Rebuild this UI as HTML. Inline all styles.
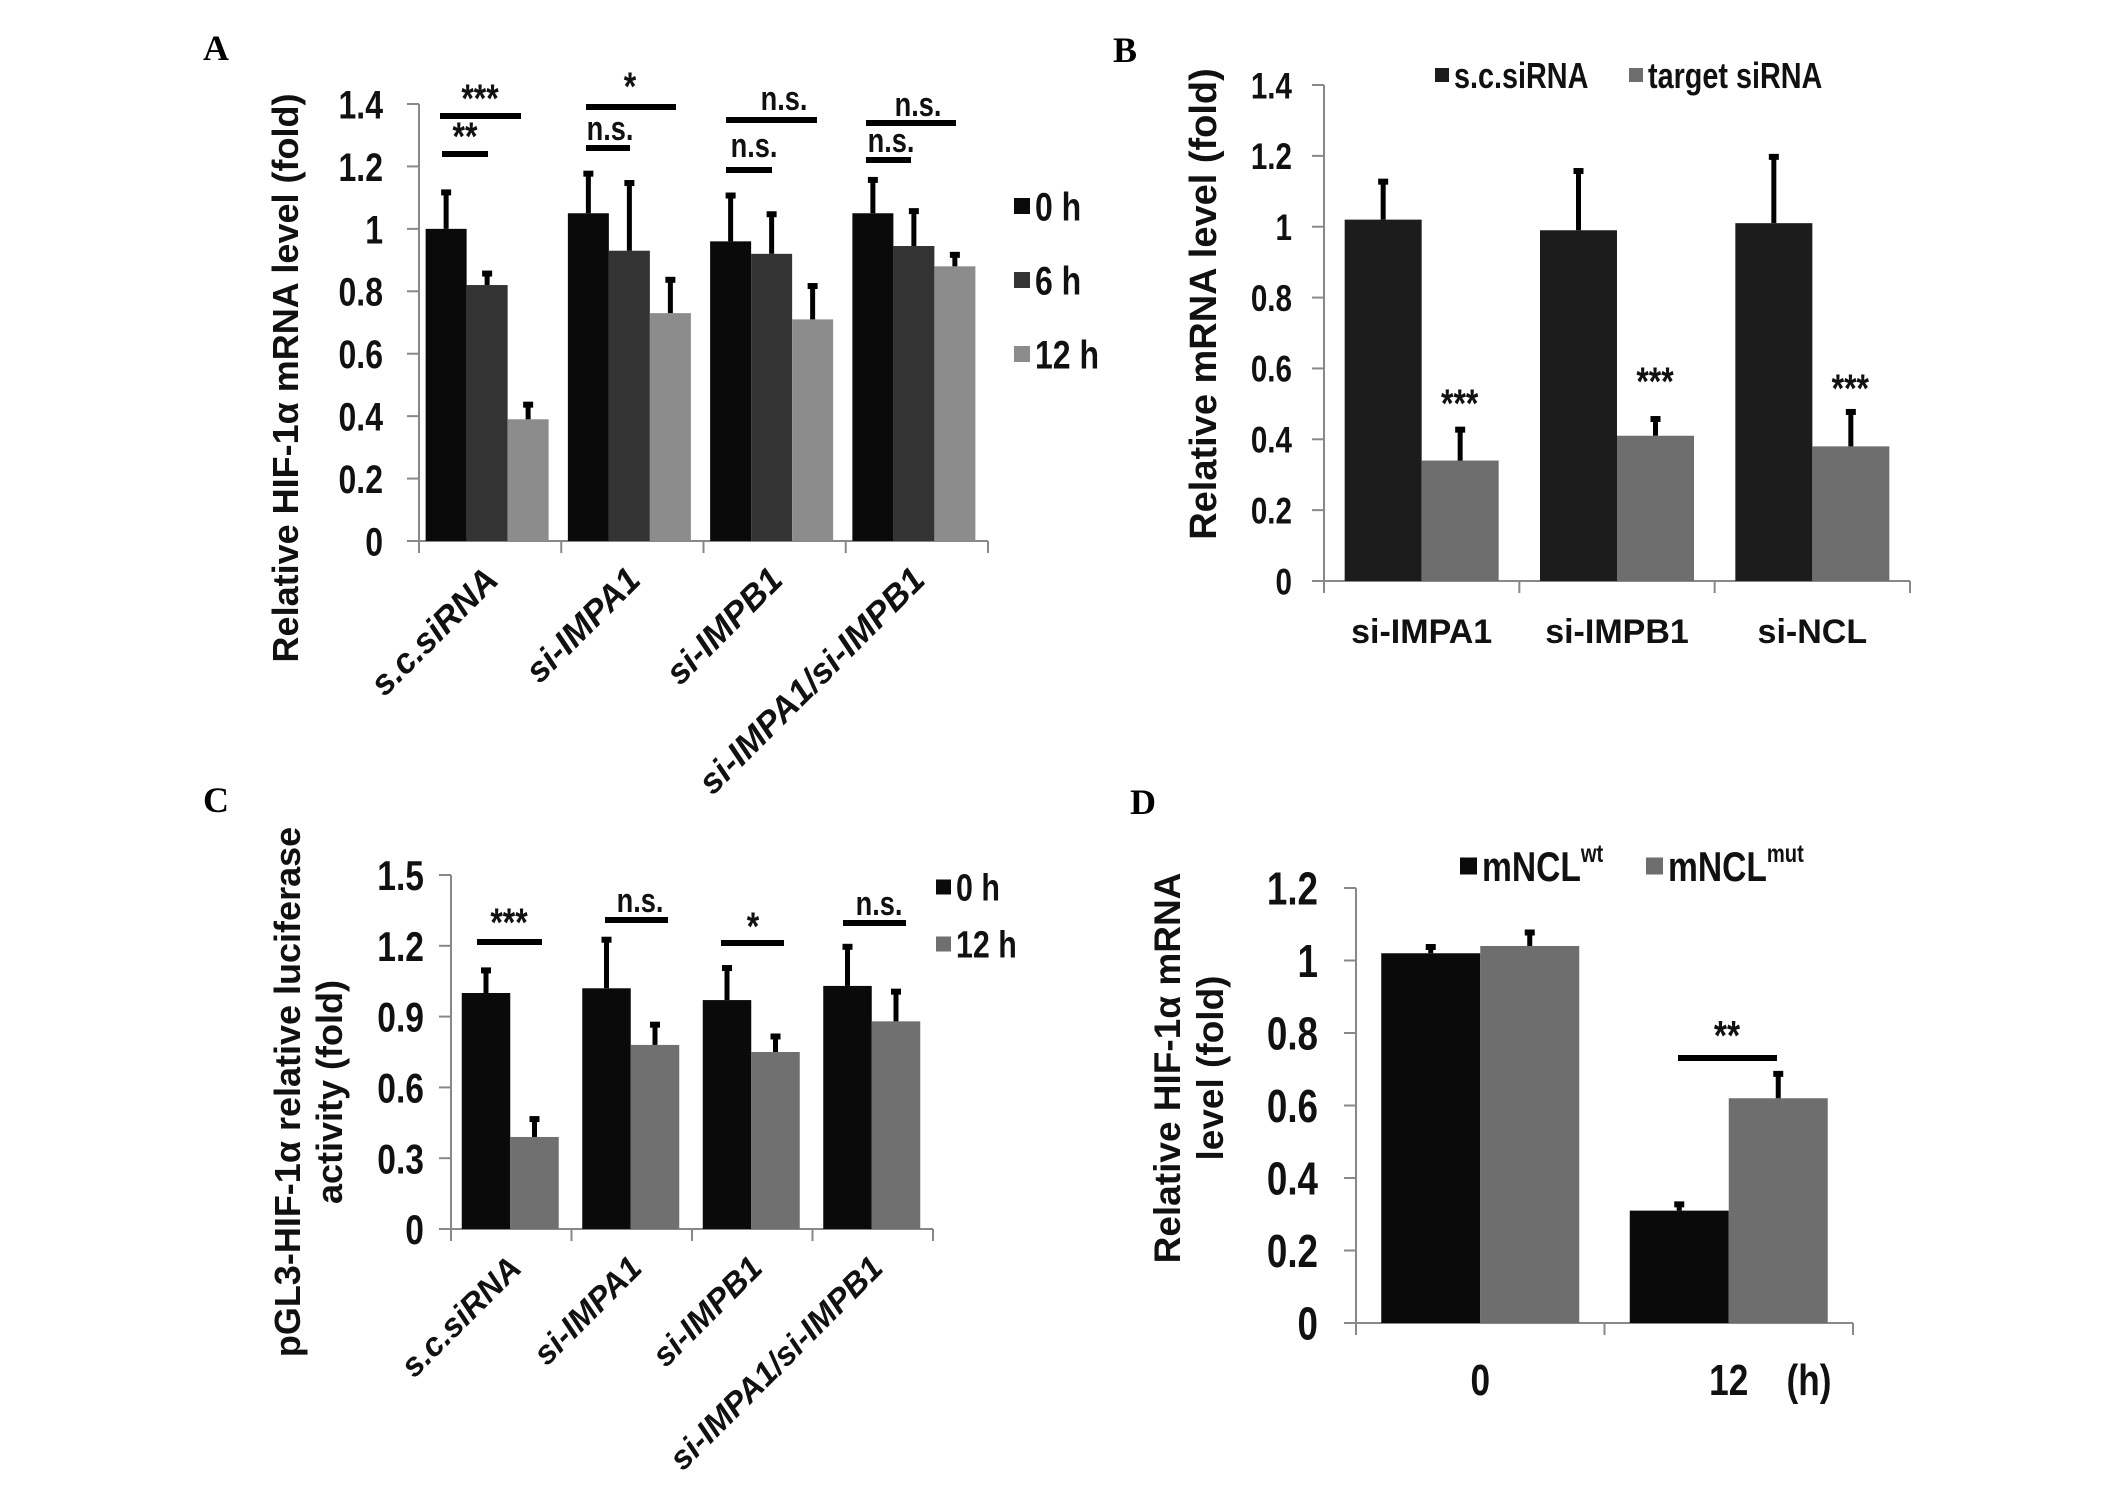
<!DOCTYPE html>
<html><head><meta charset="utf-8">
<style>
html,body{margin:0;padding:0;background:#fff;}
svg{display:block;}
.tk{font-family:"Liberation Sans Narrow","Liberation Sans",sans-serif;font-weight:bold;}
.tt{font-family:"Liberation Sans",sans-serif;font-weight:bold;}
.pl{font-family:"Liberation Serif",serif;font-weight:bold;}
</style></head>
<body>
<svg id="fig" width="2126" height="1493" viewBox="0 0 2126 1493" xmlns="http://www.w3.org/2000/svg">
<rect width="2126" height="1493" fill="#fff"/>
<g id="A"></g>
<g id="B"></g>
<g id="C"></g>
<g id="D"></g>
</svg>
<script>
// Panel A data
const aCategories = ["s.c.siRNA","si-IMPA1","si-IMPB1","si-IMPA1/si-IMPB1"];
const aSeriesNames = ["0 h","6 h","12 h"];
const a0h = [1.0,1.05,0.96,1.05];
const a0hErr = [1.12,1.18,1.11,1.16];
const a6h = [0.82,0.93,0.92,0.945];
const a6hErr = [0.86,1.15,1.05,1.06];
const a12h = [0.39,0.73,0.71,0.88];
const a12hErr = [0.44,0.84,0.82,0.92];
const aTicks = [0,0.2,0.4,0.6,0.8,1,1.2,1.4];
const aTickLabels = ["0","0.2","0.4","0.6","0.8","1","1.2","1.4"];
// Panel B data
const bCategories = ["si-IMPA1","si-IMPB1","si-NCL"];
const bSeriesNames = ["s.c.siRNA","target siRNA"];
const bSc = [1.02,0.99,1.01];
const bScErr = [1.13,1.16,1.20];
const bTarget = [0.34,0.41,0.38];
const bTargetErr = [0.43,0.46,0.48];
const bTicks = [0,0.2,0.4,0.6,0.8,1,1.2,1.4];
const bTickLabels = ["0","0.2","0.4","0.6","0.8","1","1.2","1.4"];
// Panel C data
const cCategories = ["s.c.siRNA","si-IMPA1","si-IMPB1","si-IMPA1/si-IMPB1"];
const cSeriesNames = ["0 h","12 h"];
const c0h = [1.0,1.02,0.97,1.03];
const c0hErr = [1.10,1.23,1.11,1.20];
const c12h = [0.39,0.78,0.75,0.88];
const c12hErr = [0.47,0.87,0.82,1.01];
const cTicks = [0,0.3,0.6,0.9,1.2,1.5];
const cTickLabels = ["0","0.3","0.6","0.9","1.2","1.5"];
// Panel D data
const dCategories = ["0","12"];
const dWt = [1.02,0.31];
const dWtErr = [1.04,0.33];
const dMut = [1.04,0.62];
const dMutErr = [1.08,0.69];
const dTicks = [0,0.2,0.4,0.6,0.8,1,1.2];
const dTickLabels = ["0","0.2","0.4","0.6","0.8","1","1.2"];

const NS = "http://www.w3.org/2000/svg";
const SX = 0.8;
function mk(parent, tag, attrs, text){
  const e = document.createElementNS(NS, tag);
  for (const k in attrs) e.setAttribute(k, attrs[k]);
  if (text !== undefined) e.textContent = text;
  parent.appendChild(e);
  return e;
}
function ct(parent, x, y, fs, anchor, txt){
  return mk(parent,'text',{x:0,y:0,'text-anchor':anchor,'font-size':fs,class:'tk',fill:'#111',transform:'translate('+x+' '+y+') scale('+SX+' 1)'},txt);
}

function drawPanel(g, cfg){
  const yScale = v => cfg.y0 - (v / cfg.max) * (cfg.y0 - cfg.yTop);
  const n = cfg.categories.length;
  const gw = (cfg.xEnd - cfg.x0) / n;
  const ya = mk(g,'line',{x1:cfg.x0,y1:cfg.yTop,x2:cfg.x0,y2:cfg.y0,stroke:'#888','stroke-width':2});
  
  
  const xa = mk(g,'line',{x1:cfg.x0-12,y1:cfg.y0,x2:cfg.xEnd,y2:cfg.y0,stroke:'#888','stroke-width':2});
  
  
  for (let i=0;i<=n;i++){
    const x = cfg.x0 + i*gw;
    const t = mk(g,'line',{x1:x,y1:cfg.y0,x2:x,y2:cfg.y0+12,stroke:'#888','stroke-width':2});
    
    
  }
  cfg.ticks.forEach((v,i)=>{
    const y = yScale(v);
    const t = mk(g,'line',{x1:cfg.x0-12,y1:y,x2:cfg.x0,y2:y,stroke:'#888','stroke-width':2});
    
    
    const l = ct(g,cfg.tickX,y+cfg.tickFs*0.36,cfg.tickFs,'end',cfg.tickLabels[i]);
    
    
  });
  const ns = cfg.series.length;
  const pad = (gw - ns*cfg.barW)/2;
  cfg.series.forEach((s,si)=>{
    s.vals.forEach((v,ci)=>{
      const x = cfg.x0 + ci*gw + pad + si*cfg.barW + (cfg.shift||0);
      const y = yScale(v);
      const r = mk(g,'rect',{x:x,y:y,width:cfg.barW,height:cfg.y0-y,fill:s.color});
      
      
      const cx = x + cfg.barW/2;
      const ye = yScale(s.err[ci]);
      const el = mk(g,'line',{x1:cx,y1:y,x2:cx,y2:ye,stroke:'#000','stroke-width':5});
      
      
      const ec = mk(g,'rect',{x:cx-5,y:ye-2,width:10,height:6,fill:'#000'});
      
      
    });
  });
  cfg.categories.forEach((c,ci)=>{
    const cx = cfg.x0 + ci*gw + gw/2;
    let l;
    if (cfg.rotate){
      l = mk(g,'text',{x:cx+cfg.labDx,y:cfg.labY,'text-anchor':'end','font-size':cfg.labFs,'font-style':'italic',class:'tt',fill:'#111',transform:'rotate(-45 '+(cx+cfg.labDx)+' '+cfg.labY+')'},c);
    } else if (cfg.labCond) {
      l = ct(g,cx,cfg.labY,cfg.labFs,'middle',c);
    } else {
      l = mk(g,'text',{x:cx,y:cfg.labY,'text-anchor':'middle','font-size':cfg.labFs,class:'tt',fill:'#111'},c);
    }
    
    
  });
}

function sig(g, x1, x2, y, tx, ty, txt, fs){
  const l = mk(g,'rect',{x:x1,y:y-3,width:x2-x1,height:6,fill:'#000'});
  
  
  const t = ct(g,tx,ty,fs,'middle',txt);
  
  
}
function legend(g, x, y, sz, color, label, fs, sup){
  const r = mk(g,'rect',{x:x,y:y-sz/2,width:sz,height:sz,fill:color});
  
  
  const t = ct(g,x+sz+5,y+fs*0.36,fs,'start',label);
  
  
  if (sup){ mk(t,'tspan',{'font-size':fs*0.6,dy:-fs*0.45},sup); }
}
function ytitle(g, x, y, lines, fs, gap){
  lines.forEach((ln,i)=>{
    const xx = x + i*gap;
    const t = mk(g,'text',{x:xx,y:y,'text-anchor':'middle','font-size':fs,class:'tt',fill:'#111',transform:'rotate(-90 '+xx+' '+y+')'},ln);
    
    
  });
}
function plabel(g,x,y,t){
  const e = mk(g,'text',{x:x,y:y,'font-size':36,class:'pl',fill:'#000'},t);
  
  
}

// Panel A
const gA = document.getElementById('A');
plabel(gA,203,60,'A');
drawPanel(gA,{x0:419,xEnd:988,y0:541,yTop:104,max:1.4,ticks:aTicks,tickLabels:aTickLabels,tickX:383,tickFs:40,
  categories:aCategories,barW:41,shift:-3,rotate:true,labDx:10,labY:582,labFs:35,
  series:[{key:'0h',vals:a0h,err:a0hErr,color:'#0a0a0a'},{key:'6h',vals:a6h,err:a6hErr,color:'#333'},{key:'12h',vals:a12h,err:a12hErr,color:'#8c8c8c'}]});
ytitle(gA,298,378,['Relative HIF-1\u03b1 mRNA level (fold)'],36,0);
sig(gA,440,521,116,480,112,'***',40);
sig(gA,442,488,154,465,150,'**',40);
sig(gA,586,676,107,630,100,'*',40);
sig(gA,586,630,148,610,140,'n.s.',34);
sig(gA,726,817,120,784,110,'n.s.',34);
sig(gA,726,772,170,754,157,'n.s.',34);
sig(gA,866,956,123,918,116,'n.s.',34);
sig(gA,866,911,160,891,152,'n.s.',34);
legend(gA,1014,206,16,'#0a0a0a',aSeriesNames[0],40);
legend(gA,1014,280,16,'#333',aSeriesNames[1],40);
legend(gA,1014,354,16,'#8c8c8c',aSeriesNames[2],40);

// Panel B
const gB = document.getElementById('B');
plabel(gB,1113,62,'B');
drawPanel(gB,{x0:1324,xEnd:1910,y0:581,yTop:85,max:1.4,ticks:bTicks,tickLabels:bTickLabels,tickX:1292,tickFs:37,
  categories:bCategories,barW:77,shift:0,rotate:false,labY:643,labFs:34,labCond:false,
  series:[{key:'sc',vals:bSc,err:bScErr,color:'#1c1c1c'},{key:'target',vals:bTarget,err:bTargetErr,color:'#6e6e6e'}]});
ytitle(gB,1216,304,['Relative mRNA level (fold)'],38,0);
[0,1,2].forEach(i=>{
  const cx = 1324 + i*195.3 + 97.7 + 38;
  const y = [417,395,402][i];
  const t = ct(gB,cx,y,40,'middle','***');
  
  
});
legend(gB,1435,75,14,'#1c1c1c',bSeriesNames[0],36);
legend(gB,1629,75,14,'#6e6e6e',bSeriesNames[1],36);

// Panel C
const gC = document.getElementById('C');
plabel(gC,203,812,'C');
drawPanel(gC,{x0:451,xEnd:933,y0:1229,yTop:875,max:1.5,ticks:cTicks,tickLabels:cTickLabels,tickX:424,tickFs:42,
  categories:cCategories,barW:48.5,shift:-1,rotate:true,labDx:12,labY:1270,labFs:33,
  series:[{key:'0h',vals:c0h,err:c0hErr,color:'#0a0a0a'},{key:'12h',vals:c12h,err:c12hErr,color:'#707070'}]});
ytitle(gC,300,1092,['pGL3-HIF-1\u03b1 relative luciferase','activity (fold)'],36,42);
sig(gC,477,542,942,509,936,'***',40);
sig(gC,605,668,920,640,912,'n.s.',34);
sig(gC,721,784,943,753,940,'*',40);
sig(gC,843,906,923,879,915,'n.s.',34);
legend(gC,936,887,15,'#0a0a0a',cSeriesNames[0],38);
legend(gC,936,944,15,'#707070',cSeriesNames[1],38);

// Panel D
const gD = document.getElementById('D');
plabel(gD,1130,814,'D');
drawPanel(gD,{x0:1356,xEnd:1853,y0:1323,yTop:888,max:1.2,ticks:dTicks,tickLabels:dTickLabels,tickX:1318,tickFs:46,
  categories:dCategories,barW:99,shift:0,rotate:false,labY:1395,labFs:44,labCond:true,
  series:[{key:'wt',vals:dWt,err:dWtErr,color:'#0a0a0a'},{key:'mut',vals:dMut,err:dMutErr,color:'#6e6e6e'}]});
const hl = ct(gD,1809,1395,44,'middle','(h)');


ytitle(gD,1180,1068,['Relative HIF-1\u03b1 mRNA','level (fold)'],37,43);
sig(gD,1678,1777,1058,1727,1050,'**',42);
legend(gD,1460,866,17,'#0a0a0a','mNCL',42,'wt');
legend(gD,1646,866,17,'#6e6e6e','mNCL',42,'mut');
</script>
</body></html>
